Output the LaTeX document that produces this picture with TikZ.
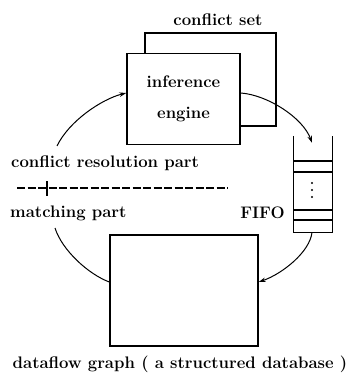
\documentclass[tikz,border=0pt]{standalone}
\usetikzlibrary{arrows.meta}
\begin{document}
\begin{tikzpicture}[x=1pt,y=-1pt,
  lbl/.style={inner sep=0pt,font=\fontsize{16.7}{31}\selectfont\bfseries},
  boxnode/.style={draw,line width=1.4pt,inner sep=0pt,fill=white},
  arc/.style={line width=1pt},
  tip/.style={-{Stealth[length=7pt,width=4.5pt]}},
  fifoline/.style={line width=1.2pt}]
\useasboundingbox (0,0) rectangle (358,382);
% conflict set (back box)
\node[boxnode,minimum width=131pt,minimum height=93pt] (cs) at (210.5,79.5) {};
\node[lbl] (csl) at (218,20) {conflict set};
% inference engine (front box)
\node[boxnode,lbl,minimum width=113pt,minimum height=91pt,align=center] (ie) at (183.5,99) {inference\\engine};
% FIFO
\node[inner sep=0pt,minimum width=38pt,minimum height=96pt] (fifo) at (313,184) {};
\draw[fifoline] (fifo.north west) -- (fifo.south west) -- (fifo.south east) -- (fifo.north east);
\draw[fifoline] (294,161) -- (332,161) (294,172) -- (332,172) (294,210) -- (332,210) (294,220) -- (332,220);
\fill (312,183) circle (1.2pt) (312,190) circle (1.2pt) (312,197) circle (1.2pt);
\node[lbl] (fifol) at (262.5,213) {FIFO};
% dataflow graph
\node[boxnode,minimum width=148pt,minimum height=111pt] (db) at (184,290.5) {};
\node[lbl] (dbl) at (180,364) {dataflow graph ( a structured database )};
% labels and divider
\node[lbl,anchor=west] (crp) at (11,163) {conflict resolution part};
\node[lbl,anchor=west] (mp) at (10,213) {matching part};
\coordinate (d1) at (17,188);
\coordinate (d2) at (228,188);
\coordinate (t1) at (47,181);
\coordinate (t2) at (47,196);
\draw[line width=1.1pt,dash pattern=on 8pt off 2.5pt] (d1) -- (d2);
\draw[line width=1.1pt] (t1) -- (t2);
% arcs
\coordinate (a1) at (57,146);
\draw[arc,tip] (a1) .. controls (69,121) and (102,99) .. ([yshift=6pt]ie.west);
\draw[arc,tip] ([yshift=6pt]ie.east) .. controls (268,95) and (303,118) .. ([xshift=-1pt,yshift=-7pt]fifo.north);
\draw[arc,tip] ([xshift=-1pt]fifo.south) .. controls (310,252) and (282,274) .. ([yshift=8.5pt]db.east);
\coordinate (b1) at (55,228);
\draw[arc] (b1) .. controls (62,250) and (88,274) .. ([yshift=8.5pt]db.west);
\end{tikzpicture}
\end{document}
